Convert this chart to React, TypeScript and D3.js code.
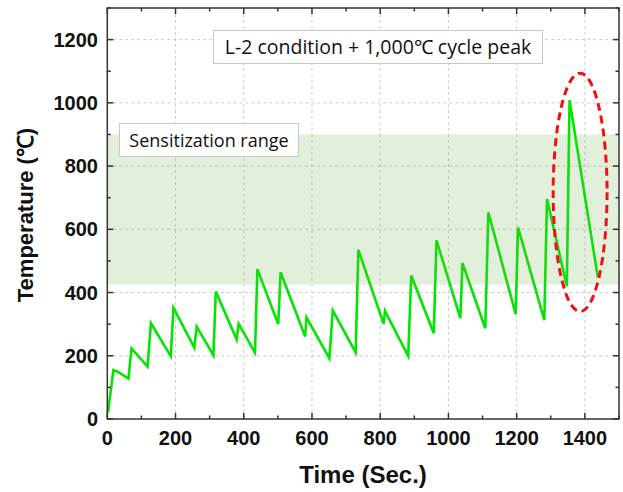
import React from "react";
import * as d3 from "d3";

const times = [2, 18, 30, 62, 71, 118, 128, 186, 194, 255, 262, 311, 318, 379, 385, 433, 440, 501, 508, 580, 584, 651, 661, 728, 736, 810, 814, 882, 891, 957, 965, 1035, 1041, 1108, 1117, 1197, 1204, 1281, 1289, 1347, 1355, 1438];
const temps = [20, 155, 150, 128, 223, 166, 303, 199, 352, 226, 292, 202, 403, 252, 301, 210, 474, 300, 464, 261, 321, 192, 343, 211, 535, 301, 342, 199, 454, 271, 565, 319, 493, 287, 654, 332, 606, 313, 696, 420, 1008, 448];

const xMajorTicks = [0, 200, 400, 600, 800, 1000, 1200, 1400];
const yMajorTicks = [0, 200, 400, 600, 800, 1000, 1200];
const xMinorTicks = [100, 300, 500, 700, 900, 1100, 1300, 1500];
const yMinorTicks = [100, 300, 500, 700, 900, 1100, 1300];

const bandRange = [425, 900];
const peakEllipse = { cx: 1386, cy: 717, rx: 79, ry: 377 };

const titleText = "L-2 condition + 1,000℃ cycle peak";
const bandText = "Sensitization range";
const xTitle = "Time (Sec.)";
const yTitle = "Temperature (℃)";

export default function App() {
  const W = 623, H = 492;
  const L = 107.3, R = 619, T = 8, B = 419;
  const x = d3.scaleLinear().domain([0, 1500]).range([L, R]);
  const y = d3.scaleLinear().domain([0, 1300]).range([B, T]);
  const line = d3.line<number>().x((_, i) => x(times[i])).y((d) => y(d));
  const tickFont = "'Liberation Sans', Arial, sans-serif";
  const boxFont = "'Open Sans', Lato, sans-serif";
  const axisColor = "#333";

  return (
    <svg width={W} height={H} style={{ position: "absolute", left: 0, top: 0, background: "#fff" }}>
      {/* grid */}
      {xMajorTicks.filter((t) => t > 0).map((t) => (
        <line key={"gx" + t} x1={x(t)} x2={x(t)} y1={T} y2={B} stroke="#ccc" strokeWidth={1} strokeDasharray="3,3" />
      ))}
      {yMajorTicks.filter((t) => t > 0).map((t) => (
        <line key={"gy" + t} x1={L} x2={R} y1={y(t)} y2={y(t)} stroke="#ccc" strokeWidth={1} strokeDasharray="3,3" />
      ))}
      {/* data line */}
      <path d={line(temps) || ""} fill="none" stroke="#00e600" strokeWidth={2.6} strokeLinejoin="miter" />
      {/* sensitization band */}
      <rect x={L} y={y(bandRange[1])} width={R - L} height={y(bandRange[0]) - y(bandRange[1])} fill="#70AD47" fillOpacity={0.2} />
      {/* ellipse */}
      <ellipse
        cx={x(peakEllipse.cx)}
        cy={y(peakEllipse.cy)}
        rx={x(peakEllipse.cx + peakEllipse.rx) - x(peakEllipse.cx)}
        ry={y(0) - y(peakEllipse.ry)}
        fill="none"
        stroke="#ee1111"
        strokeWidth={3}
        strokeDasharray="8,5"
      />
      {/* text boxes */}
      <rect x={213.5} y={30.5} width={329} height={33} fill="#fff" stroke="#c8c8c8" strokeWidth={1} />
      <text x={378} y={53.5} textAnchor="middle" fontFamily={boxFont} fontSize={19.5} fill="#111">{titleText}</text>
      <rect x={119.5} y={123.5} width={179} height={33} fill="#fff" stroke="#c8c8c8" strokeWidth={1} />
      <text x={209} y={146.5} textAnchor="middle" fontFamily={boxFont} fontSize={18} fill="#111">{bandText}</text>
      {/* frame */}
      <rect x={L} y={T} width={R - L} height={B - T} fill="none" stroke={axisColor} strokeWidth={1.5} />
      {/* ticks */}
      {xMajorTicks.map((t) => (
        <g key={"xt" + t}>
          <line x1={x(t)} x2={x(t)} y1={B} y2={B - 6} stroke={axisColor} strokeWidth={1.5} />
          <line x1={x(t)} x2={x(t)} y1={T} y2={T + 6} stroke={axisColor} strokeWidth={1.5} />
          <text x={x(t)} y={445} textAnchor="middle" fontFamily={tickFont} fontWeight="bold" fontSize={20} fill="#111">{t}</text>
        </g>
      ))}
      {xMinorTicks.map((t) => (
        <g key={"xm" + t}>
          <line x1={x(t)} x2={x(t)} y1={B} y2={B - 3.5} stroke={axisColor} strokeWidth={1.5} />
          <line x1={x(t)} x2={x(t)} y1={T} y2={T + 3.5} stroke={axisColor} strokeWidth={1.5} />
        </g>
      ))}
      {yMajorTicks.map((t) => (
        <g key={"yt" + t}>
          <line x1={L} x2={L + 6} y1={y(t)} y2={y(t)} stroke={axisColor} strokeWidth={1.5} />
          <line x1={R} x2={R - 6} y1={y(t)} y2={y(t)} stroke={axisColor} strokeWidth={1.5} />
          <text x={98} y={y(t) + 7} textAnchor="end" fontFamily={tickFont} fontWeight="bold" fontSize={20} fill="#111">{t}</text>
        </g>
      ))}
      {yMinorTicks.map((t) => (
        <g key={"ym" + t}>
          <line x1={L} x2={L + 3.5} y1={y(t)} y2={y(t)} stroke={axisColor} strokeWidth={1.5} />
          <line x1={R} x2={R - 3.5} y1={y(t)} y2={y(t)} stroke={axisColor} strokeWidth={1.5} />
        </g>
      ))}
      {/* axis titles */}
      <text x={363} y={483} textAnchor="middle" fontFamily={tickFont} fontWeight="bold" fontSize={24} fill="#111">{xTitle}</text>
      <text transform={`translate(33, 215) rotate(-90)`} textAnchor="middle" fontFamily={tickFont} fontWeight="bold" fontSize={22} fill="#111">{yTitle}</text>
    </svg>
  );
}
